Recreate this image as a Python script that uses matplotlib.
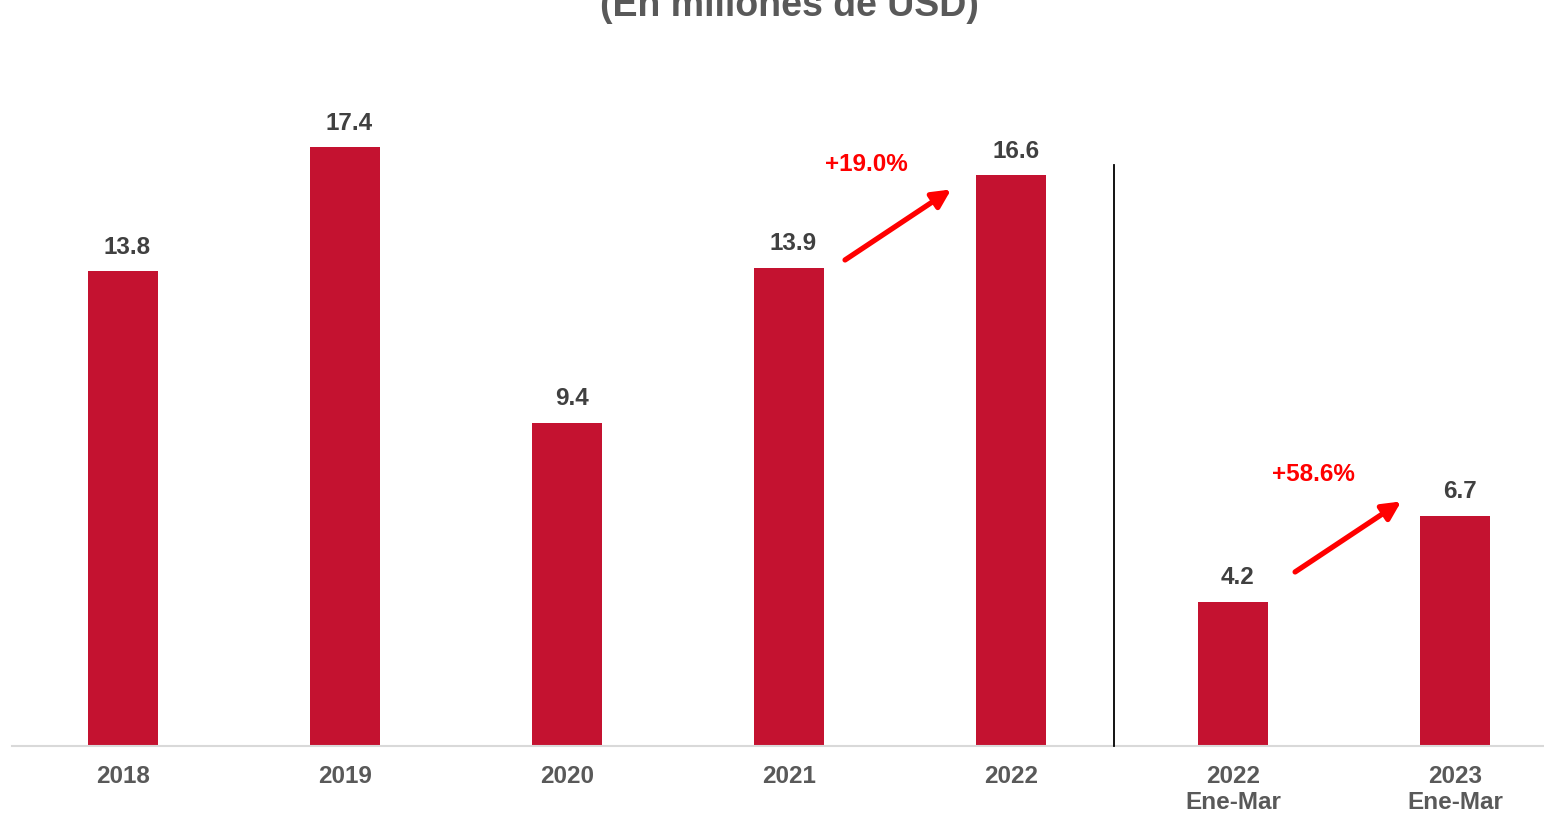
import numpy as np
import matplotlib.pyplot as plt

plt.rcParams['font.family'] = ['Liberation Sans', 'DejaVu Sans']

# datos (millones de USD)
categorias = ['2018', '2019', '2020', '2021', '2022', '2022\nEne-Mar', '2023\nEne-Mar']
valores = [13.8, 17.4, 9.4, 13.9, 16.6, 4.2, 6.7]
etiquetas = ['13.8', '17.4', '9.4', '13.9', '16.6', '4.2', '6.7']
variaciones = ['+19.0%', '+58.6%']

rojo = '#C41230'
gris = '#595959'
gris_osc = '#404040'

fig = plt.figure(figsize=(15.44, 8.13), dpi=100)
ax = fig.add_axes([12/1544, 1-746/813, 1-12/1544, (746-100)/813])

x = np.arange(len(valores))
ax.bar(x, valores, width=0.315, color=rojo, zorder=2)

for xi, v, t in zip(x, valores, etiquetas):
    ax.text(xi + 0.02, v + 0.36, t, ha='center', va='bottom', fontsize=17.5,
            fontweight='bold', color=gris_osc)

ax.set_xlim(-0.5, 6.4)
ax.set_ylim(0, 18.78)
ax.set_xticks(x)
ax.set_xticklabels(categorias, fontsize=17.5, fontweight='bold', color=gris, linespacing=1.15)
ax.tick_params(axis='x', length=0, pad=14)
ax.set_yticks([])
for s in ['top', 'right', 'left']:
    ax.spines[s].set_visible(False)
ax.spines['bottom'].set_color('#d9d9d9')
ax.spines['bottom'].set_linewidth(1.5)

# separador
ax.plot([4.464, 4.464], [0, 16.9], color='black', lw=1.3, zorder=3, clip_on=False)

# flechas de variacion
arrow = dict(arrowstyle='-|>,head_length=1.1,head_width=0.55', color='#FF0000', lw=3.8,
             shrinkA=0, shrinkB=0)
ax.annotate('', xy=(3.73, 16.18), xytext=(3.252, 14.13), arrowprops=arrow)
ax.annotate('', xy=(5.757, 7.11), xytext=(5.279, 5.06), arrowprops=arrow)
ax.text(3.35, 16.9, variaciones[0], ha='center', va='center', fontsize=17.5,
        fontweight='bold', color='#FF0000')
ax.text(5.36, 7.88, variaciones[1], ha='center', va='center', fontsize=17.5,
        fontweight='bold', color='#FF0000')

fig.text(0.511, 1 - 24/813, '(En millones de USD)', ha='center', va='bottom',
         fontsize=27, fontweight='bold', color=gris)

fig.savefig('out.png', dpi=100)
